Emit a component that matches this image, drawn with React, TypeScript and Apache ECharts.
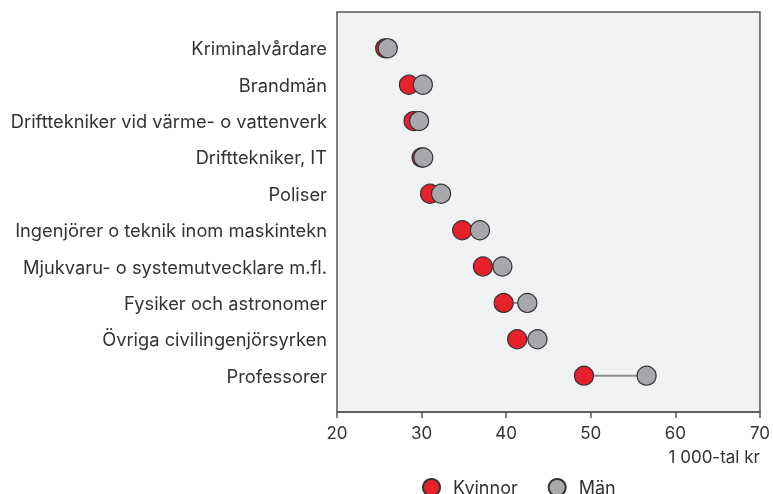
import React, { useEffect, useRef } from "react";
import * as echarts from "echarts";

const categories = [
  "Kriminalvårdare",
  "Brandmän",
  "Drifttekniker vid värme- o vattenverk",
  "Drifttekniker, IT",
  "Poliser",
  "Ingenjörer o teknik inom maskintekn",
  "Mjukvaru- o systemutvecklare m.fl.",
  "Fysiker och astronomer",
  "Övriga civilingenjörsyrken",
  "Professorer",
];
const kvinnor = [25.7, 28.5, 29.05, 30.0, 31.0, 34.8, 37.25, 39.7, 41.3, 49.2];
const man = [26.0, 30.15, 29.7, 30.2, 32.3, 36.9, 39.55, 42.5, 43.7, 56.6];
const xTicks = [20, 30, 40, 50, 60, 70];

export default function App() {
  const ref = useRef<HTMLDivElement>(null);
  useEffect(() => {
    if (!ref.current) return;
    const chart = echarts.init(ref.current, null, { renderer: "svg" });
    const font = "Inter, 'Noto Sans', sans-serif";
    const rows = categories.map((c, i) => [kvinnor[i], man[i], i + 1]);
    chart.setOption({
      animation: false,
      textStyle: { fontFamily: font },
      grid: { left: 337, right: 12, top: 12, bottom: 82, show: true, backgroundColor: "#f1f2f4", borderColor: "#555", borderWidth: 1.5 },
      xAxis: {
        type: "value",
        min: xTicks[0],
        max: xTicks[xTicks.length - 1],
        interval: 10,
        splitLine: { show: false },
        axisLine: { show: true, onZero: false, lineStyle: { color: "#555", width: 1.5 } },
        axisTick: { show: true, length: 6, lineStyle: { color: "#555", width: 1.5 } },
        axisLabel: { color: "#333", fontSize: 17, margin: 12, fontFamily: font },
      },
      yAxis: {
        type: "value",
        min: 0,
        max: categories.length + 1,
        interval: 1,
        inverse: true,
        splitLine: { show: false },
        axisLine: { show: false, onZero: false },
        axisTick: { show: false },
        axisLabel: {
          color: "#333",
          fontSize: 18.3,
          margin: 10,
          fontFamily: font,
          formatter: (v: number) => (v >= 1 && v <= categories.length ? categories[v - 1] : ""),
        },
      },
      legend: {
        left: 422,
        top: 478,
        padding: 0,
        itemWidth: 17,
        itemHeight: 17,
        itemGap: 30,
        icon: "circle",
        textStyle: { color: "#333", fontSize: 18, fontFamily: font, padding: [0, 0, 0, 8] },
        data: ["Kvinnor", "Män"],
      },
      graphic: [
        {
          type: "text",
          right: 13,
          top: 448,
          style: { text: "1 000-tal kr", fill: "#333", fontSize: 17, fontFamily: font },
        },
      ],
      series: [
        {
          type: "custom",
          name: "link",
          data: rows,
          encode: { x: [0, 1], y: 2 },
          renderItem: (params: any, api: any) => {
            const a = api.coord([api.value(0), api.value(2)]);
            const b = api.coord([api.value(1), api.value(2)]);
            return {
              type: "line",
              shape: { x1: a[0], y1: a[1], x2: b[0], y2: b[1] },
              style: { stroke: "#8c8c8c", lineWidth: 2 },
            };
          },
          silent: true,
          z: 1,
        },
        {
          type: "scatter",
          name: "Kvinnor",
          data: kvinnor.map((v, i) => [v, i + 1]),
          symbolSize: 19,
          itemStyle: { color: "#e8202a", borderColor: "#333", borderWidth: 1.2, opacity: 1 },
          z: 2,
        },
        {
          type: "scatter",
          name: "Män",
          data: man.map((v, i) => [v, i + 1]),
          symbolSize: 19,
          itemStyle: { color: "#a7a8ab", borderColor: "#333", borderWidth: 1.2, opacity: 1 },
          z: 3,
        },
      ],
    });
    return () => chart.dispose();
  }, []);
  return <div ref={ref} style={{ position: "fixed", left: 0, top: 0, width: 773, height: 494 }} />;
}
